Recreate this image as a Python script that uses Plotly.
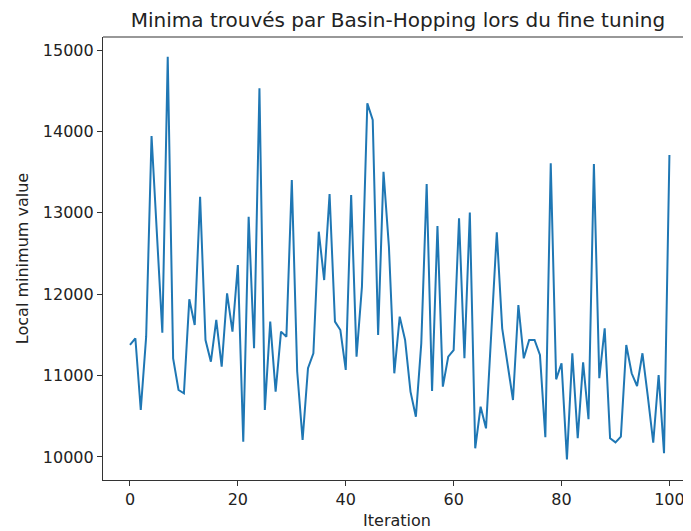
import plotly.graph_objects as go

iterations = list(range(101))
minima = [
    11376, 11458, 10577, 11478, 13943, 12730, 11527, 14918, 11212, 10823,
    10782, 11937, 11622, 13198, 11437, 11171, 11683, 11110, 12011, 11540,
    12359, 10188, 12952, 11335, 14529, 10577, 11663, 10803, 11540, 11478,
    13403, 11050, 10209, 11090, 11274, 12768, 12174, 13231, 11663, 11560,
    11069, 13219, 11233, 12092, 14345, 14140, 11499, 13505, 12584, 11028,
    11724, 11437, 10803, 10495, 11396, 13354, 10811, 12838, 10864, 11233,
    11314, 12932, 11212, 13002, 10107, 10618, 10352, 11550, 12760, 11581,
    11151, 10700, 11867, 11212, 11437, 11437, 11253, 10242, 13608, 10954,
    11151, 9971, 11274, 10230, 11163, 10463, 13600, 10967, 11581, 10230,
    10180, 10250, 11376, 11028, 10872, 11274, 10741, 10177, 11007, 10045,
    13710,
]
x_ticks = [0, 20, 40, 60, 80, 100]
y_ticks = [10000, 11000, 12000, 13000, 14000, 15000]

title_text = "Minima trouvés par Basin-Hopping lors du fine tuning"
x_label = "Iteration"
y_label = "Local minimum value"

font = "DejaVu Sans"

fig = go.Figure()
fig.add_trace(go.Scatter(
    x=iterations, y=minima, mode="lines",
    line=dict(color="#1f77b4", width=2),
    showlegend=False, hoverinfo="skip",
))

# page has an 8px body margin: paper is 683x523 so it ends at the window edge
fig.update_layout(
    width=683, height=523,
    margin=dict(l=95, r=0, t=29, b=51),
    paper_bgcolor="white", plot_bgcolor="white",
    font=dict(family=font, size=16, color="#222222"),
    title=dict(text=title_text, x=390/683, xanchor="center", y=1 - 12/523,
               yanchor="middle", font=dict(family=font, size=20, color="#222222")),
    xaxis=dict(
        range=[-5, 104.0], tickmode="array", tickvals=x_ticks,
        ticktext=[str(v) for v in x_ticks],
        showgrid=False, zeroline=False, showline=True, linecolor="#333333",
        linewidth=1.2, ticks="outside", ticklen=5, tickcolor="#333333",
        tickfont=dict(size=16),
        title=dict(text=x_label, standoff=6, font=dict(size=16)),
    ),
    yaxis=dict(
        range=[9717, 15160], tickmode="array", tickvals=y_ticks,
        ticktext=[str(v) for v in y_ticks],
        showgrid=False, zeroline=False, showline=True, linecolor="#333333",
        linewidth=1.2, ticks="outside", ticklen=5, tickcolor="#333333",
        tickfont=dict(size=16),
        title=dict(text=y_label, standoff=10, font=dict(size=16)),
    ),
    shapes=[dict(type="line", xref="paper", yref="paper", x0=0, x1=1,
                 y0=1, y1=1, line=dict(color="#333333", width=1.2))],
)

fig.write_html("out.html")
